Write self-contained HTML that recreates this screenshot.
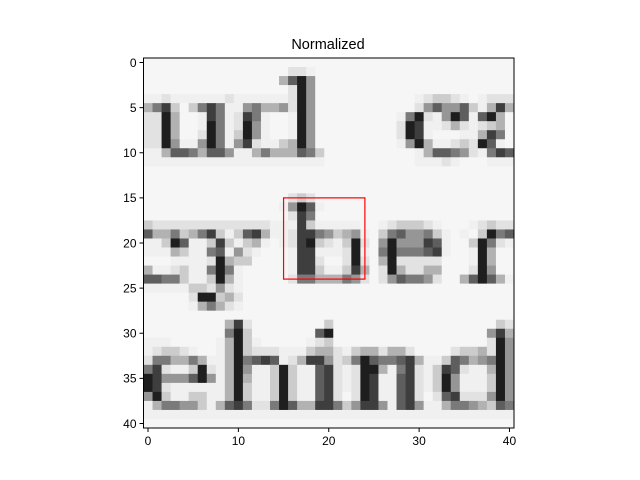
<!DOCTYPE html>
<html><head><meta charset="utf-8"><style>
html,body{margin:0;padding:0;background:#fff;}
svg{display:block;font-family:"Liberation Sans","DejaVu Sans",sans-serif;}
</style></head><body>
<svg id="chart" width="640" height="480" viewBox="0 0 640 480">
<rect x="0" y="0" width="640" height="480" fill="#fff"/>
<text x="328" y="49" text-anchor="middle" font-size="14.5" fill="#000">Normalized</text>
<g id="cells"></g>
<g id="overlay"></g>
<g id="axes"></g>
</svg>
<script>
// pixel darkness levels 0 (white) .. 9 (black), one string per image row
const imageRows = [
"00000000000000000000000000000000000000000",
"00000000000000002210000000000000000000000",
"00000000000000047950000000000000000000000",
"00000000000000002950000000000000000000000",
"11211111121111112950000000000012332101222",
"46830368611564452950000000000025755731484",
"22940018612861001950000000001692159717940",
"22940019612951001950000000002981124212340",
"22940029613951001950000000002981000114860",
"22951159615821134950000000001594112329710",
"11477647751146444763000000000014776521687",
"11111111111111111111000000000011121000111",
"00000000000000000000000000000000000000000",
"00000000000000000000000000000000000000000",
"00000000000000000000000000000000000000000",
"00000000000000002320000000000000000000000",
"00000000000000015971000000000000000000000",
"00000000000000002860000000000000000000000",
"32222222222222111831111100123332100012322",
"74463468313784112886534510367556310103967",
"11397113831341012893213920595558710039621",
"11143116715210001881112910696667810019400",
"00011112943300001882002920492222200019400",
"41123116961000001883113840294224400029500",
"77663113941000002664446520257665200479741",
"11111332521000000000000000000000000000000",
"00000299342000000000000000000000000000000",
"00000146421000000000000000000000000000000",
"00000000000000000000000000000000000000000",
"00000000048200000000300000000000000000032",
"00000000069300000007900000000000000000584",
"11100000149310000012300000000000000000295",
"12332100149322211134421344244200002334295",
"26644641149678712488523697667841137645695",
"68211392149511393117821299416821387211495",
"98555795149411393117821298117821395111395",
"98211111149311393117821298117821395111395",
"59311331149311393117820298117820278222595",
"14665531478622697448863588517851146654376",
"11111111111111111111111111111111111111111",
"00000000000000000000000000000000000000000"
];
const xTickValues = [0, 10, 20, 30, 40];
const yTickValues = [0, 5, 10, 15, 20, 25, 30, 35, 40];
const boxCorner = [15, 15];
const boxSize = [9, 9];

const NS = "http://www.w3.org/2000/svg";
const L = 143.5, T = 58, W = 370.5, H = 370;
const nCols = imageRows[0].length, nRows = imageRows.length;
const cw = W / nCols, ch = H / nRows;
function xs(v){ return L + (v + 0.5) * cw; }
function ys(v){ return T + (v + 0.5) * ch; }
const grayTable = [246,240,226,204,178,150,122,94,62,30];
function mk(tag, attrs){ const e = document.createElementNS(NS, tag); for (const k in attrs) e.setAttribute(k, attrs[k]); return e; }

const cells = document.getElementById('cells');
for (let r = 0; r < nRows; r++) {
  for (let c = 0; c < nCols; c++) {
    const g = grayTable[+imageRows[r][c]];
    const rect = mk('rect', {x: (xs(c - 0.5)).toFixed(2), y: (ys(r - 0.5)).toFixed(2), width: (cw + 0.4).toFixed(2), height: (ch + 0.4).toFixed(2), fill: `rgb(${g},${g},${g})`});
    
    
    cells.appendChild(rect);
  }
}

const overlay = document.getElementById('overlay');
const box = mk('rect', {x: xs(boxCorner[0]), y: ys(boxCorner[1]), width: xs(boxCorner[0] + boxSize[0]) - xs(boxCorner[0]), height: ys(boxCorner[1] + boxSize[1]) - ys(boxCorner[1]), fill: 'none', stroke: '#ff0000', 'stroke-width': 1.2});


overlay.appendChild(box);

const axes = document.getElementById('axes');
const frame = mk('rect', {x: L, y: T, width: W, height: H, fill: 'none', stroke: '#000', 'stroke-width': 1});


axes.appendChild(frame);
xTickValues.forEach(v => {
  const x = xs(v);
  const t = mk('line', {x1: x, y1: T + H, x2: x, y2: T + H + 4, stroke: '#000', 'stroke-width': 1});
  
  
  axes.appendChild(t);
  const lb = mk('text', {x: x, y: T + H + 17, 'text-anchor': 'middle', 'font-size': 12, fill: '#000'});
  lb.textContent = String(v);
  
  
  axes.appendChild(lb);
});
yTickValues.forEach(v => {
  const y = ys(v);
  const t = mk('line', {x1: L - 4, y1: y, x2: L, y2: y, stroke: '#000', 'stroke-width': 1});
  
  
  axes.appendChild(t);
  const lb = mk('text', {x: L - 7, y: y + 4.3, 'text-anchor': 'end', 'font-size': 12, fill: '#000'});
  lb.textContent = String(v);
  
  
  axes.appendChild(lb);
});
</script>
</body></html>
